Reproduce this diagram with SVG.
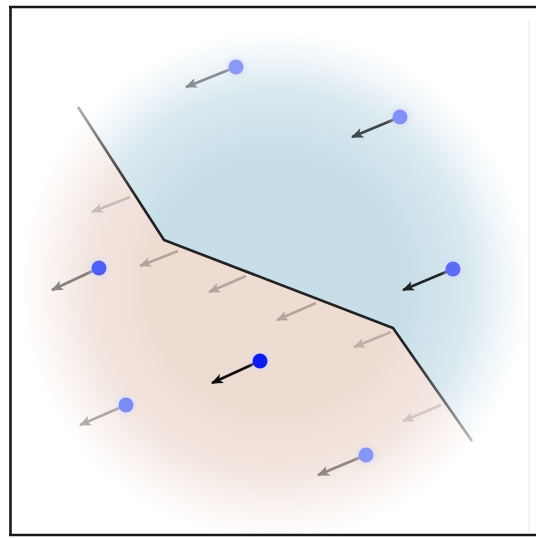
<svg xmlns="http://www.w3.org/2000/svg" width="536" height="538" viewBox="0 0 536 538">
  <defs>
    <radialGradient id="fadeGrad" gradientUnits="userSpaceOnUse" cx="275" cy="285" r="255">
      <stop offset="0" stop-color="#fff" stop-opacity="1"/>
      <stop offset="0.5" stop-color="#fff" stop-opacity="1"/>
      <stop offset="0.75" stop-color="#fff" stop-opacity="0.7"/>
      <stop offset="0.9" stop-color="#fff" stop-opacity="0.25"/>
      <stop offset="1" stop-color="#fff" stop-opacity="0"/>
    </radialGradient>
    <mask id="fadeMask" maskUnits="userSpaceOnUse" x="0" y="0" width="536" height="538">
      <rect x="0" y="0" width="536" height="538" fill="url(#fadeGrad)"/>
    </mask>
    <linearGradient id="lineGrad" gradientUnits="userSpaceOnUse" x1="78" y1="107" x2="472" y2="441">
      <stop offset="0" stop-color="#222" stop-opacity="0.35"/>
      <stop offset="0.2" stop-color="#222" stop-opacity="1"/>
      <stop offset="0.8" stop-color="#222" stop-opacity="1"/>
      <stop offset="1" stop-color="#222" stop-opacity="0.3"/>
    </linearGradient>
    <filter id="soft" x="-20%" y="-20%" width="140%" height="140%">
      <feGaussianBlur stdDeviation="0.7"/>
    </filter>
    <filter id="glow" x="-50%" y="-50%" width="200%" height="200%">
      <feGaussianBlur stdDeviation="2"/>
    </filter>
    <marker id="head" viewBox="0 0 12 10" refX="11" refY="5" markerWidth="13" markerHeight="10" markerUnits="userSpaceOnUse" orient="auto">
      <path d="M0,0 L12,5 L0,10 L3,5 Z" fill="#111"/>
    </marker>
  </defs>
  <style>
    .arrow line { stroke: #111; stroke-width: 2.5; marker-end: url(#head); }
    .halo { fill: #d0d4ff; opacity: 0.45; filter: url(#glow); }
  </style>

  <rect x="0" y="0" width="536" height="538" fill="#ffffff"/>

  <!-- regions -->
  <g id="regions" mask="url(#fadeMask)">
    <polygon id="blue-region" points="10,2 164,240 393,328 530,524 536,524 536,0 10,0" fill="#c7dee8"/>
    <polygon id="peach-region" points="10,2 164,240 393,328 530,524 536,524 536,538 0,538 0,0 10,0" fill="#eedcd3"/>
  </g>

  <!-- frame -->
  <g id="frame">
    <line x1="529" y1="20" x2="529" y2="532" stroke="#f0f0f0" stroke-width="1.5"/>
    <line x1="9" y1="7" x2="536" y2="7" stroke="#1a1a1a" stroke-width="2.6"/>
    <line x1="10.5" y1="6" x2="10.5" y2="536" stroke="#1a1a1a" stroke-width="2.6"/>
    <line x1="9" y1="535" x2="536" y2="535" stroke="#1a1a1a" stroke-width="2.6"/>
  </g>

  <!-- boundary -->
  <g id="boundary" filter="url(#soft)">
    <polyline points="78,107 164,240 393,328 472,441" fill="none" stroke="url(#lineGrad)" stroke-width="2.6" stroke-linejoin="round"/>
  </g>

  <!-- connectors (arrows) -->
  <g id="connectors" filter="url(#soft)">
    <g class="arrow" opacity="0.45"><line x1="236" y1="67" x2="186" y2="87"/></g>
    <g class="arrow" opacity="0.75"><line x1="400" y1="117" x2="352" y2="137"/></g>
    <g class="arrow" opacity="0.5"><line x1="99" y1="268" x2="52" y2="290"/></g>
    <g class="arrow" opacity="0.9"><line x1="453" y1="269" x2="403" y2="290"/></g>
    <g class="arrow" opacity="1"><line x1="260" y1="361" x2="212" y2="383"/></g>
    <g class="arrow" opacity="0.3"><line x1="126" y1="405" x2="80" y2="425"/></g>
    <g class="arrow" opacity="0.45"><line x1="366" y1="455" x2="318" y2="475"/></g>
    <!-- ghost arrows along boundary -->
    <g class="arrow" opacity="0.18"><line x1="130" y1="197" x2="92" y2="212"/></g>
    <g class="arrow" opacity="0.25"><line x1="178" y1="251" x2="140" y2="266"/></g>
    <g class="arrow" opacity="0.25"><line x1="246" y1="276" x2="209" y2="292"/></g>
    <g class="arrow" opacity="0.25"><line x1="316" y1="303" x2="277" y2="320"/></g>
    <g class="arrow" opacity="0.2"><line x1="391" y1="332" x2="354" y2="347"/></g>
    <g class="arrow" opacity="0.14"><line x1="441" y1="405" x2="403" y2="421"/></g>
  </g>

  <!-- nodes -->
  <g id="node-1"><circle class="halo" cx="236" cy="67" r="10"/><circle cx="236" cy="67" r="7.5" fill="#8a98f6"/></g>
  <g id="node-2"><circle class="halo" cx="400" cy="117" r="10"/><circle cx="400" cy="117" r="7.5" fill="#8291f7"/></g>
  <g id="node-3"><circle class="halo" cx="99" cy="268" r="10"/><circle cx="99" cy="268" r="7.5" fill="#4c5ff6"/></g>
  <g id="node-4"><circle class="halo" cx="453" cy="269" r="10"/><circle cx="453" cy="269" r="7.5" fill="#5a6bf6"/></g>
  <g id="node-5"><circle class="halo" cx="260" cy="361" r="10"/><circle cx="260" cy="361" r="7.5" fill="#0b1ef2"/></g>
  <g id="node-6"><circle class="halo" cx="126" cy="405" r="10"/><circle cx="126" cy="405" r="7.5" fill="#7a8bf6"/></g>
  <g id="node-7"><circle class="halo" cx="366" cy="455" r="10"/><circle cx="366" cy="455" r="7.5" fill="#8696f6"/></g>
</svg>
